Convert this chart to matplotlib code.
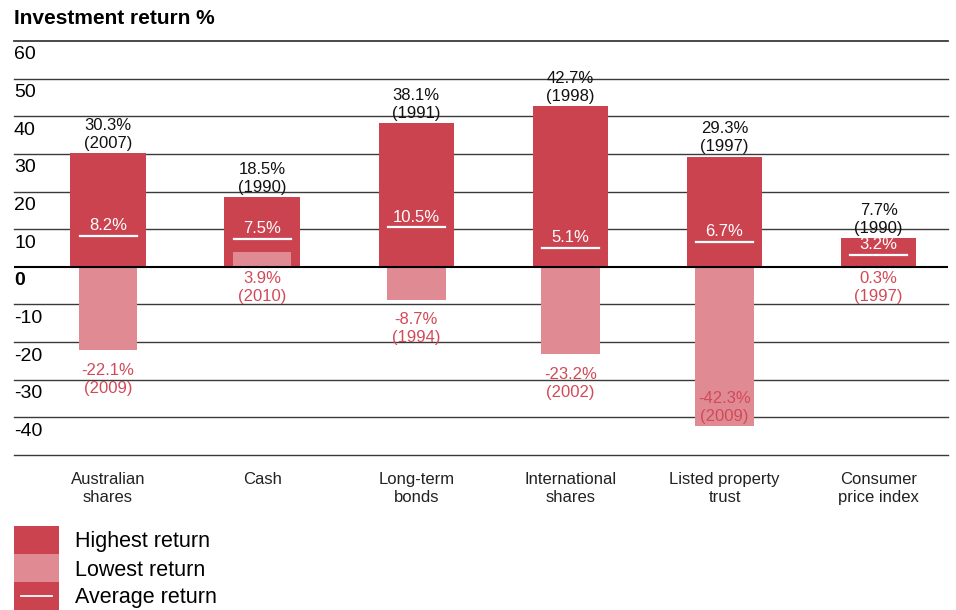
import matplotlib.pyplot as plt
from matplotlib.patches import Rectangle
from matplotlib.transforms import blended_transform_factory

plt.rcParams['font.family'] = ['Liberation Sans', 'DejaVu Sans']

categories = ["Australian\nshares", "Cash", "Long-term\nbonds", "International\nshares",
              "Listed property\ntrust", "Consumer\nprice index"]
highest = [30.3, 18.5, 38.1, 42.7, 29.3, 7.7]
highest_year = ["2007", "1990", "1991", "1998", "1997", "1990"]
lowest = [-22.1, 3.9, -8.7, -23.2, -42.3, 0.3]
lowest_year = ["2009", "2010", "1994", "2002", "2009", "1997"]
average = [8.2, 7.5, 10.5, 5.1, 6.7, 3.2]
yticks = [60, 50, 40, 30, 20, 10, 0, -10, -20, -30, -40]

c_high = "#CC4350"
c_low = "#E08B93"
c_lowtxt = "#D24A58"

fig = plt.figure(figsize=(9.56, 6.10), dpi=100)
ax = fig.add_axes([14 / 956, (610 - 455) / 610, 934 / 956, 414 / 610])
ax.set_xlim(-0.61, 5.45)
ax.set_ylim(-50, 60)

# grid lines
for v in yticks + [-50]:
    if v == 0:
        continue
    ax.axhline(v, color="#3a3a3a", lw=1.3 if v == 60 else 1.0, zorder=1, clip_on=False)

x = list(range(len(categories)))
ax.bar(x, highest, width=0.49, color=c_high, zorder=2)
ax.bar(x, lowest, width=0.38, color=c_low, zorder=3)
ax.axhline(0, color="black", lw=1.5, zorder=4)

for i in x:
    # average line + label
    ax.plot([i - 0.185, i + 0.185], [average[i]] * 2, color="white", lw=1.6, zorder=5)
    ax.text(i, average[i] + 0.7, f"{average[i]}%", color="white", ha="center",
            va="bottom", fontsize=12, zorder=6)
    # highest label
    ax.text(i, highest[i] + 0.6, f"{highest[i]}%\n({highest_year[i]})", color="#111111",
            ha="center", va="bottom", fontsize=12, linespacing=1.25, zorder=6)
    # lowest label
    if lowest[i] < 0:
        ly = max(lowest[i] - 3.4, -33.0)
    else:
        ly = -1.2
    ax.text(i, ly, f"{lowest[i]}%\n({lowest_year[i]})", color=c_lowtxt,
            ha="center", va="top", fontsize=12, linespacing=1.25, zorder=6)

# y tick labels drawn inside the plot, just below each line
tr = blended_transform_factory(ax.transAxes, ax.transData)
for v in yticks:
    ax.text(0.0, v - 3.7, str(v), transform=tr, ha="left", va="center", fontsize=14,
            fontweight="bold" if v == 0 else "normal", color="black")

ax.set_xticks(x)
ax.set_xticklabels(categories, fontsize=12, color="#222222", linespacing=1.3)
ax.tick_params(axis="x", length=0, pad=12)
ax.set_yticks([])
for s in ax.spines.values():
    s.set_visible(False)

fig.text(14 / 956, 1 - 18 / 610, "Investment return %", fontsize=15, fontweight="bold",
         ha="left", va="center")

# legend
lg = fig.add_axes([14 / 956, 0, 45 / 956, 84 / 610])
lg.set_xlim(0, 1)
lg.set_ylim(0, 3)
lg.add_patch(Rectangle((0, 2), 1, 1, color=c_high, lw=0))
lg.add_patch(Rectangle((0, 1), 1, 1, color=c_low, lw=0))
lg.add_patch(Rectangle((0, 0), 1, 1, color=c_high, lw=0))
lg.plot([0.15, 0.85], [0.5, 0.5], color="white", lw=1.3)
lg.axis("off")
for k, lab in enumerate(["Highest return", "Lowest return", "Average return"]):
    fig.text(75 / 956, 1 - (542 + 28 * k) / 610, lab, fontsize=15.5, ha="left", va="center")

fig.savefig("out.png", dpi=100)
